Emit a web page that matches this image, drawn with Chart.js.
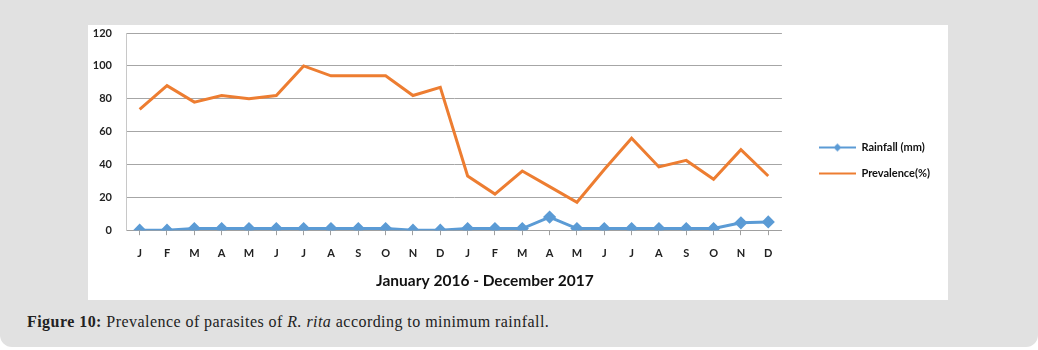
<!DOCTYPE html>
<html>
<head>
<meta charset="utf-8">
<script src="https://cdn.jsdelivr.net/npm/chart.js@4.4.1/dist/chart.umd.min.js"></script>
<style>
  body { margin: 0; background: #fff; }
  .panel {
    position: absolute; left: 0; top: 0; width: 1038px; height: 347px;
    background: #e1e1e1; border-radius: 0 0 12px 12px;
  }
  .chart-box {
    position: absolute; left: 88px; top: 25px; width: 860px; height: 275px;
    background: #fff;
  }
  .chart-box canvas { display: block; }
  .caption {
    position: absolute; left: 27px; top: 313px;
    font-family: "Liberation Serif", serif; font-size: 16px; letter-spacing: 0.45px; color: #222;
  }
</style>
</head>
<body>
<div class="panel">
  <div class="chart-box"><canvas id="rainChart" width="860" height="275"></canvas></div>
  <div class="caption"><b>Figure 10:</b> Prevalence of parasites of <i>R. rita</i> according to minimum rainfall.</div>
</div>
<script>
const months = ['J', 'F', 'M', 'A', 'M', 'J', 'J', 'A', 'S', 'O', 'N', 'D',
                'J', 'F', 'M', 'A', 'M', 'J', 'J', 'A', 'S', 'O', 'N', 'D'];
const rainfall = [0, 0, 1, 1, 1, 1, 1, 1, 1, 1, 0, 0,
                  1, 1, 1, 8, 1, 1, 1, 1, 1, 1, 4.5, 5];
const prevalence = [73.5, 88, 78, 82, 80, 82, 100, 94, 94, 94, 82, 87,
                    33, 22, 36, 26.5, 17, 37, 56, 38.5, 42.5, 31, 49, 33];
const yTicks = [0, 20, 40, 60, 80, 100, 120];

const blue = '#5b9bd5';
const orange = '#ed7d31';
const fontFamily = 'Lato, "Open Sans", sans-serif';

// little legend symbols: line with a diamond for rainfall, plain line for prevalence
function legendSymbol(color, diamond) {
  const c = document.createElement('canvas');
  c.width = 37; c.height = 10;
  const g = c.getContext('2d');
  g.strokeStyle = color; g.lineWidth = 2;
  g.beginPath(); g.moveTo(0, 5); g.lineTo(37, 5); g.stroke();
  if (diamond) {
    g.fillStyle = color;
    g.beginPath(); g.moveTo(18.5, 1); g.lineTo(22.5, 5); g.lineTo(18.5, 9); g.lineTo(14.5, 5); g.closePath(); g.fill();
  }
  return c;
}
const symbols = [legendSymbol(blue, true), legendSymbol(orange, false)];

const ctx = document.getElementById('rainChart').getContext('2d');
new Chart(ctx, {
  type: 'line',
  data: {
    labels: months,
    datasets: [{
      label: 'Rainfall (mm)',
      data: rainfall,
      borderColor: blue,
      backgroundColor: blue,
      borderWidth: 3,
      pointStyle: 'rectRot',
      pointRadius: 4.5,
      tension: 0
    }, {
      label: 'Prevalence(%)',
      data: prevalence,
      borderColor: orange,
      backgroundColor: orange,
      borderWidth: 3,
      pointRadius: 0,
      tension: 0
    }]
  },
  options: {
    responsive: false,
    animation: false,
    layout: { autoPadding: false, padding: { left: 5, right: 8, top: 0, bottom: 10 } },
    scales: {
      x: {
        offset: true,
        grid: { drawOnChartArea: false, color: '#a0a0a0', tickLength: 5 },
        border: { color: '#a0a0a0' },
        ticks: { color: '#222', padding: 11.5, font: { family: fontFamily, size: 11, weight: 'bold' } },
        title: {
          display: true,
          // the title sits a bit right of the plot centre in the original
          text: '\u2002\u2002\u2002\u2002\u2002\u2002\u2002\u2002January 2016 - December 2017',
          color: '#111',
          padding: { top: 0, bottom: 0 },
          font: { family: fontFamily, size: 15.5, weight: 'bold' }
        }
      },
      y: {
        min: 0,
        max: 120,
        afterBuildTicks: axis => { axis.ticks = yTicks.map(v => ({ value: v })); },
        afterFit: axis => { axis.width = 33; },
        grid: { color: '#a6a6a6', tickColor: 'transparent', tickLength: 12.5 },
        border: { color: '#c8c8c8' },
        ticks: { color: '#222', padding: 1.5, font: { family: fontFamily, size: 11, weight: 'bold' } }
      },
      // empty axis, only keeps the gap between plot and legend
      gap: {
        type: 'linear',
        position: 'right',
        grid: { display: false },
        border: { display: false },
        ticks: { display: false },
        afterFit: axis => { axis.width = 22; }
      }
    },
    plugins: {
      legend: {
        position: 'right',
        // empty title just nudges the items down a little
        title: { display: true, text: '', font: { size: 1 }, padding: { top: 4.8, bottom: 0 } },
        labels: {
          usePointStyle: true,
          pointStyleWidth: 37,
          padding: 15,
          color: '#111',
          font: { family: fontFamily, size: 11, weight: 'bold' },
          generateLabels: chart => Chart.defaults.plugins.legend.labels.generateLabels(chart)
            .map((item, i) => Object.assign(item, { pointStyle: symbols[i] }))
        }
      },
      tooltip: { enabled: false }
    }
  }
});
</script>
</body>
</html>
